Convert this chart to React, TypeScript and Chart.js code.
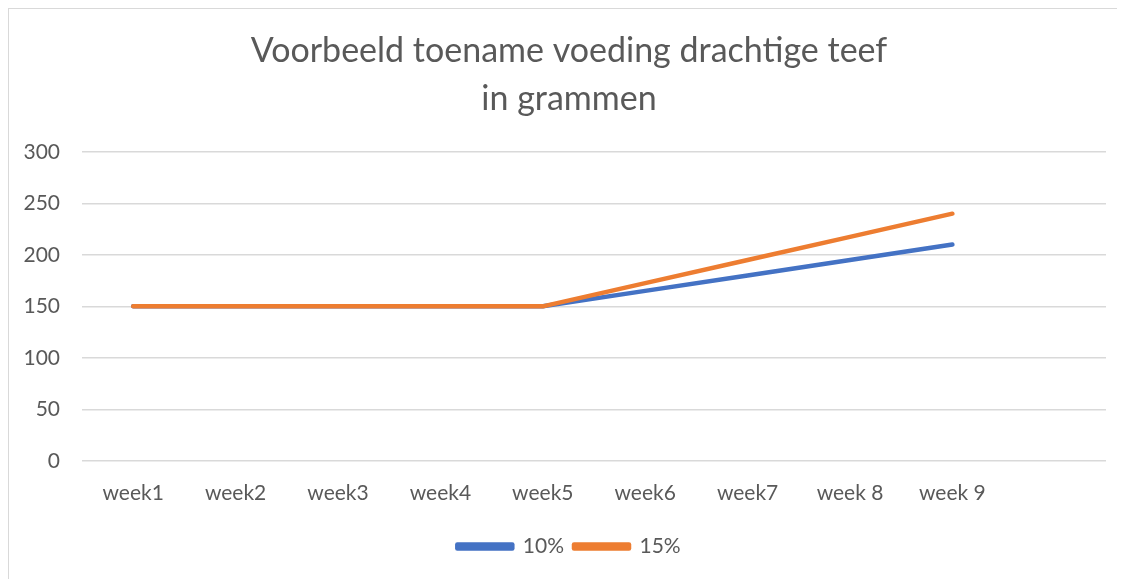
import React, { useEffect, useRef } from "react";
import { Chart, registerables } from "chart.js";

Chart.register(...registerables);

const categories = ["week1", "week2", "week3", "week4", "week5", "week6", "week7", "week 8", "week 9", ""];
const series10 = [150, 150, 150, 150, 150, 165, 180, 195, 210, null];
const series15 = [150, 150, 150, 150, 150, 172.5, 195, 217.5, 240, null];
const seriesNames = ["10%", "15%"];
const titleLines = ["Voorbeeld toename voeding drachtige teef", "in grammen"];

const FONT = "Lato, 'Open Sans', sans-serif";
const TEXT = "#595959";

export default function App() {
  const ref = useRef<HTMLCanvasElement | null>(null);
  useEffect(() => {
    if (!ref.current) return;
    const chart = new Chart(ref.current, {
      type: "line",
      data: {
        labels: categories,
        datasets: [
          {
            label: seriesNames[0],
            data: series10,
            borderColor: "#4472C4",
            backgroundColor: "#4472C4",
            borderWidth: 4.5,
            pointRadius: 0,
            borderCapStyle: "round",
            borderJoinStyle: "round",
            order: 1,
          },
          {
            label: seriesNames[1],
            data: series15,
            borderColor: "#ED7D31",
            backgroundColor: "#ED7D31",
            borderWidth: 4.5,
            pointRadius: 0,
            borderCapStyle: "round",
            borderJoinStyle: "round",
            order: 0,
          },
        ],
      },
      options: {
        animation: false,
        responsive: false,
        maintainAspectRatio: false,
        layout: { padding: { left: 0, right: 0, top: 0, bottom: 12 } },
        plugins: {
          tooltip: { enabled: false },
          title: {
            display: true,
            text: titleLines,
            color: TEXT,
            font: { family: FONT, size: 34, weight: "normal", lineHeight: 1.41 },
            padding: { top: 18, bottom: 29 },
          },
          legend: {
            position: "bottom",
            labels: {
              color: TEXT,
              font: { family: FONT, size: 21 },
              boxWidth: 55,
              boxHeight: 4,
              padding: 10,
              sort: (a: any, b: any) => a.datasetIndex - b.datasetIndex,
            },
          },
        },
        scales: {
          x: {
            offset: true,
            grid: { display: false, drawTicks: false },
            border: { display: false },
            ticks: {
              color: TEXT,
              font: { family: FONT, size: 21 },
              padding: 20,
              maxRotation: 0,
              autoSkip: false,
            },
          },
          y: {
            min: 0,
            max: 300,
            afterFit: (scale: any) => {
              scale.width = 73;
            },
            grid: { color: "#d9d9d9", lineWidth: 1.5, drawTicks: false },
            border: { display: false },
            ticks: {
              stepSize: 50,
              color: TEXT,
              font: { family: FONT, size: 21 },
              padding: 22,
            },
          },
          yRight: {
            position: "right",
            min: 0,
            max: 300,
            afterFit: (scale: any) => {
              scale.width = 23;
            },
            grid: { display: false, drawTicks: false },
            border: { display: false },
            ticks: { display: false },
          },
        },
      },
    });
    return () => chart.destroy();
  }, []);

  return (
    <div
      style={{
        width: 1117,
        height: 572,
        borderLeft: "2px solid #d9d9d9",
        borderTop: "2px solid #d9d9d9",
        boxSizing: "border-box",
        background: "#fff",
        marginLeft: -1,
        marginTop: -1,
        overflow: "hidden",
      }}
    >
      <canvas ref={ref} width={1120} height={570} style={{ display: "block" }} />
    </div>
  );
}
